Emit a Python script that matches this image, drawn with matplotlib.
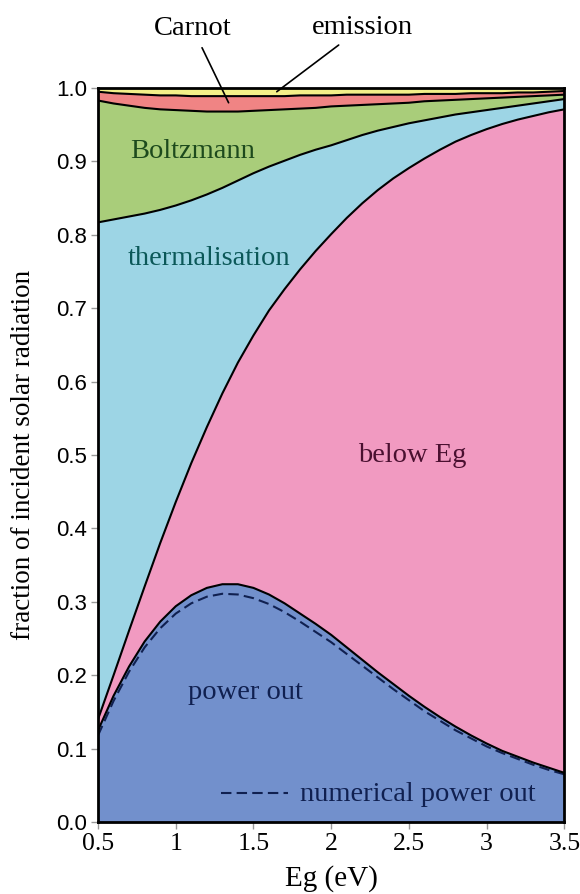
import numpy as np
import matplotlib
matplotlib.use('Agg')
import matplotlib.pyplot as plt

# band gap (eV)
eg = [0.5, 0.6, 0.7, 0.8, 0.9, 1.0, 1.1, 1.2, 1.3, 1.4, 1.5, 1.6, 1.7, 1.8, 1.9, 2.0,
      2.1, 2.2, 2.3, 2.4, 2.5, 2.6, 2.7, 2.8, 2.9, 3.0, 3.1, 3.2, 3.3, 3.4, 3.5]

# upper edges of the stacked regions (fraction of incident solar radiation)
power_out = [0.125, 0.172, 0.212, 0.246, 0.273, 0.294, 0.309, 0.319, 0.324, 0.324, 0.319,
             0.310, 0.298, 0.284, 0.270, 0.255, 0.238, 0.221, 0.204, 0.188, 0.172,
             0.157, 0.143, 0.130, 0.118, 0.107, 0.097, 0.089, 0.081, 0.074, 0.067]
numerical_power_out = [0.118, 0.165, 0.205, 0.238, 0.264, 0.284, 0.298, 0.307, 0.311, 0.310,
                       0.305, 0.297, 0.286, 0.273, 0.259, 0.245, 0.229, 0.213, 0.197, 0.181,
                       0.166, 0.151, 0.138, 0.125, 0.114, 0.103, 0.094, 0.086, 0.078, 0.071, 0.065]
below_eg = [0.140, 0.200, 0.261, 0.321, 0.380, 0.436, 0.489, 0.538, 0.584, 0.626, 0.663,
            0.697, 0.726, 0.753, 0.778, 0.801, 0.823, 0.843, 0.861, 0.877, 0.891,
            0.904, 0.916, 0.927, 0.936, 0.944, 0.951, 0.957, 0.962, 0.967, 0.971]
thermalisation = [0.817, 0.821, 0.825, 0.829, 0.834, 0.840, 0.847, 0.855, 0.864, 0.874, 0.884,
                  0.893, 0.901, 0.909, 0.916, 0.922, 0.929, 0.936, 0.942, 0.947, 0.952,
                  0.956, 0.960, 0.964, 0.967, 0.970, 0.973, 0.976, 0.979, 0.982, 0.985]
boltzmann = [0.983, 0.979, 0.976, 0.973, 0.971, 0.970, 0.969, 0.968, 0.968, 0.968, 0.969,
             0.970, 0.971, 0.972, 0.973, 0.975, 0.976, 0.977, 0.978, 0.979, 0.980,
             0.982, 0.983, 0.984, 0.985, 0.986, 0.987, 0.988, 0.989, 0.990, 0.991]
carnot = [0.995, 0.993, 0.992, 0.991, 0.990, 0.990, 0.989, 0.989, 0.989, 0.989, 0.989,
          0.989, 0.989, 0.990, 0.990, 0.990, 0.991, 0.991, 0.991, 0.991, 0.991,
          0.992, 0.992, 0.992, 0.993, 0.993, 0.993, 0.994, 0.994, 0.995, 0.996]
emission = [1.0] * len(eg)

serif = 'Liberation Serif'
sans = 'Liberation Sans'

fig = plt.figure(figsize=(5.8, 8.94), dpi=100)
ax = fig.add_axes([0.169, 0.0805, 0.804, 0.821])

layers = [
    (np.zeros(len(eg)), power_out, '#7290cc'),
    (power_out, below_eg, '#f19ac1'),
    (below_eg, thermalisation, '#9dd5e5'),
    (thermalisation, boltzmann, '#a9cd7a'),
    (boltzmann, carnot, '#f08484'),
    (carnot, emission, '#f3f089'),
]
for lo, hi, col in layers:
    ax.fill_between(eg, lo, hi, facecolor=col, edgecolor='none', zorder=1)

for edge in [power_out, below_eg, thermalisation, boltzmann, carnot]:
    ax.plot(eg, edge, color='black', lw=1.5, zorder=3)

ax.plot(eg, numerical_power_out, color='#102050', lw=1.5, ls=(0, (5, 2.5)), zorder=2)

ax.set_xlim(0.5, 3.5)
ax.set_ylim(0.0, 1.0)
ax.set_xticks([0.5, 1, 1.5, 2, 2.5, 3, 3.5])
ax.set_xticklabels(['0.5', '1', '1.5', '2', '2.5', '3', '3.5'], fontfamily=serif, fontsize=18.5)
ax.set_yticks(np.arange(0, 1.01, 0.1))
ax.set_yticklabels(['%.1f' % v for v in np.arange(0, 1.01, 0.1)], fontfamily=sans, fontsize=16)
ax.tick_params(direction='out', length=5, width=1, color='#999999', pad=3)
for s in ax.spines.values():
    s.set_linewidth(2)
    s.set_zorder(5)

ax.set_xlabel('Eg (eV)', fontfamily=serif, fontsize=21, labelpad=7)
ax.set_ylabel('fraction of incident solar radiation', fontfamily=serif, fontsize=19.5, labelpad=14)

# region labels
ax.text(1.107, 0.905, 'Boltzmann', fontfamily=serif, fontsize=20.5, color='#1d4a1d', ha='center', va='baseline')
ax.text(1.217, 0.759, 'thermalisation', fontfamily=serif, fontsize=20.5, color='#0b5858', ha='center', va='baseline')
ax.text(2.52, 0.490, 'below Eg', fontfamily=serif, fontsize=20.5, color='#4a1030', ha='center', va='baseline')
ax.text(1.45, 0.168, 'power out', fontfamily=serif, fontsize=20.5, color='#102050', ha='center', va='baseline')

# legend for the dashed curve
ax.plot([1.29, 1.72], [0.040, 0.040], color='#102050', lw=1.5, ls=(0, (5, 2.5)), zorder=4)
ax.text(1.80, 0.029, 'numerical power out', fontfamily=serif, fontsize=20.5, color='#102050', ha='left', va='baseline')

# labels above the axes with pointer lines
ax.annotate('Carnot', xy=(1.34, 0.980), xytext=(1.11, 1.072), textcoords='data',
            fontfamily=serif, fontsize=20.5, ha='center', va='baseline', annotation_clip=False,
            arrowprops=dict(arrowstyle='-', color='black', lw=1.2, shrinkA=3, shrinkB=0))
ax.annotate('emission', xy=(1.65, 0.995), xytext=(2.20, 1.074), textcoords='data',
            fontfamily=serif, fontsize=20.5, ha='center', va='baseline', annotation_clip=False,
            arrowprops=dict(arrowstyle='-', color='black', lw=1.2, shrinkA=3, shrinkB=0))

fig.savefig('out.png', dpi=100)
